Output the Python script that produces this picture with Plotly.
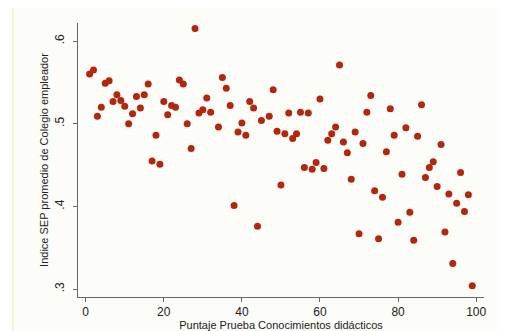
import plotly.graph_objects as go

puntaje = [1, 2, 3, 4, 5, 6, 7, 8, 9, 10, 11, 12, 13, 14, 15, 16, 17, 18, 19, 20,
           21, 22, 23, 24, 25, 26, 27, 28, 29, 30, 31, 32, 34, 35, 36, 37, 38, 39, 40,
           41, 42, 43, 44, 45, 47, 48, 49, 50, 51, 52, 53, 54, 55, 56, 57, 58, 59, 60,
           61, 62, 63, 64, 65, 66, 67, 68, 69, 70, 71, 72, 73, 74, 75, 76, 77, 78, 79,
           80, 81, 82, 83, 84, 85, 86, 87, 88, 89, 90, 91, 92, 93, 94, 95, 96, 97, 98, 99]
indice_sep = [0.560, 0.565, 0.509, 0.520, 0.549, 0.552, 0.527, 0.535, 0.528, 0.521,
              0.500, 0.512, 0.533, 0.519, 0.535, 0.548, 0.455, 0.486, 0.451, 0.527,
              0.511, 0.522, 0.520, 0.553, 0.548, 0.500, 0.470, 0.615, 0.513, 0.517,
              0.531, 0.514, 0.496, 0.556, 0.543, 0.522, 0.401, 0.490, 0.501, 0.486,
              0.527, 0.519, 0.376, 0.504, 0.509, 0.541, 0.491, 0.426, 0.488, 0.513,
              0.482, 0.488, 0.514, 0.447, 0.513, 0.445, 0.453, 0.530, 0.446, 0.480,
              0.488, 0.496, 0.571, 0.478, 0.465, 0.433, 0.490, 0.367, 0.476, 0.514,
              0.534, 0.419, 0.361, 0.411, 0.466, 0.518, 0.486, 0.381, 0.439, 0.495,
              0.393, 0.359, 0.485, 0.523, 0.435, 0.447, 0.454, 0.424, 0.475, 0.369,
              0.415, 0.331, 0.404, 0.441, 0.394, 0.414, 0.304]

x_ticks = [0, 20, 40, 60, 80, 100]
x_tick_labels = ["0", "20", "40", "60", "80", "100"]
y_ticks = [0.3, 0.4, 0.5, 0.6]
y_tick_labels = [".3", ".4", ".5", ".6"]

bg = "#fcfcf8"
font = "Liberation Sans, Arial, sans-serif"

fig = go.Figure()
fig.add_trace(go.Scatter(
    x=puntaje, y=indice_sep, mode="markers",
    marker=dict(color="#b3270f", size=7, line=dict(width=0)),
    showlegend=False, hoverinfo="skip"))

fig.update_layout(
    width=506, height=331,
    margin=dict(l=70, r=30, t=15, b=37),
    paper_bgcolor=bg, plot_bgcolor=bg,
    font=dict(family=font, size=11, color="#222"),
    xaxis=dict(
        range=[-1.97, 102.0], tickmode="array", tickvals=x_ticks, ticktext=x_tick_labels,
        showgrid=False, zeroline=False, showline=True, linecolor="#666", linewidth=1,
        ticks="outside", ticklen=4, tickcolor="#666", tickfont=dict(size=12),
        title=dict(text="Puntaje Prueba Conocimientos didácticos", font=dict(size=11), standoff=0),
    ),
    yaxis=dict(
        range=[0.2905, 0.6218], tickmode="array", tickvals=y_ticks, ticktext=y_tick_labels,
        showgrid=False, zeroline=False, showline=True, linecolor="#666", linewidth=1,
        ticks="outside", ticklen=4, tickcolor="#666", tickangle=-90, tickfont=dict(size=12),
        ticklabelstandoff=4,
        title=dict(text="Indice SEP promedio de Colegio empleador", font=dict(size=11), standoff=2),
    ),
)
fig.add_shape(type="line", xref="paper", yref="paper", x0=-0.16, x1=-0.16, y0=-0.15, y1=1.1,
              line=dict(color="#f0eca8", width=1))
fig.write_html("out.html")
